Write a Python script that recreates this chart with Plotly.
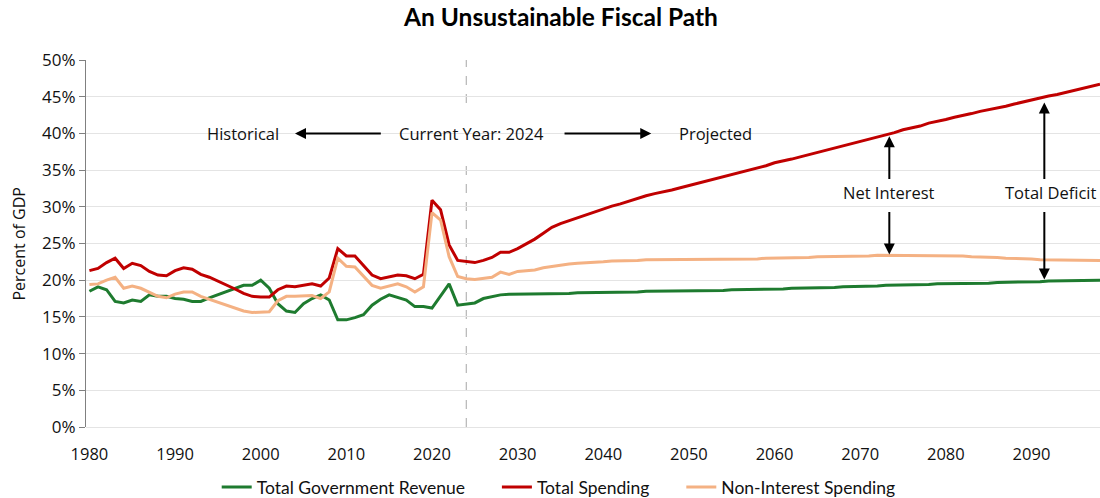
import plotly.graph_objects as go

years = list(range(1980, 2099))

revenue_hist = [18.5, 19.1, 18.7, 17.1, 16.9, 17.3, 17.1, 18.0, 17.8, 17.8,
                17.5, 17.4, 17.1, 17.1, 17.6, 18.0, 18.4, 18.8, 19.3, 19.3,
                20.0, 18.9, 16.8, 15.8, 15.6, 16.8, 17.5, 18.0, 17.3, 14.6,
                14.6, 14.9, 15.3, 16.6, 17.4, 18.0, 17.7, 17.3, 16.4, 16.4,
                16.2, 17.8, 19.5, 16.6, 16.8]
revenue_proj = [16.9, 17.5, 17.8, 18.0, 18.1, 18.1, 18.2, 18.1, 18.2, 18.2,
                18.2, 18.2, 18.3, 18.3, 18.3, 18.4, 18.4, 18.4, 18.4, 18.4,
                18.5, 18.5, 18.5, 18.5, 18.5, 18.5, 18.6, 18.6, 18.6, 18.6,
                18.7, 18.7, 18.7, 18.7, 18.8, 18.8, 18.8, 18.9, 18.9, 18.9,
                19.0, 19.0, 19.0, 19.1, 19.1, 19.1, 19.2, 19.2, 19.3, 19.3,
                19.3, 19.4, 19.4, 19.4, 19.5, 19.5, 19.5, 19.5, 19.6, 19.6,
                19.6, 19.7, 19.7, 19.7, 19.8, 19.8, 19.8, 19.9, 19.9, 19.9,
                19.9, 20.0, 20.0, 20.0]

spending_hist = [21.3, 21.6, 22.4, 23.0, 21.6, 22.3, 22.0, 21.2, 20.7, 20.6,
                 21.3, 21.7, 21.5, 20.8, 20.4, 19.9, 19.3, 18.8, 18.2, 17.8,
                 17.7, 17.7, 18.7, 19.2, 19.1, 19.3, 19.5, 19.2, 20.3, 24.3,
                 23.3, 23.3, 22.0, 20.7, 20.2, 20.4, 20.7, 20.6, 20.2, 20.8,
                 30.9, 29.6, 24.8, 22.7, 22.5]
spending_proj = [22.4, 22.7, 23.1, 23.8, 23.8, 24.3, 24.9, 25.6, 26.4, 27.2,
                 27.7, 28.1, 28.5, 29.0, 29.3, 29.8, 30.1, 30.4, 30.8, 31.1,
                 31.5, 31.8, 32.0, 32.3, 32.6, 32.9, 33.2, 33.5, 33.8, 34.0,
                 34.3, 34.7, 35.0, 35.3, 35.6, 36.0, 36.2, 36.5, 36.8, 37.1,
                 37.4, 37.7, 38.0, 38.3, 38.6, 38.9, 39.2, 39.5, 39.8, 40.1,
                 40.5, 40.7, 41.0, 41.4, 41.6, 41.9, 42.2, 42.4, 42.7, 43.0,
                 43.2, 43.5, 43.7, 44.0, 44.3, 44.5, 44.8, 45.1, 45.3, 45.6,
                 45.9, 46.2, 46.5, 46.7]

noninterest_hist = [19.4, 19.5, 20.0, 20.4, 18.9, 19.2, 18.9, 18.3, 17.8, 17.6,
                    18.1, 18.4, 18.4, 17.8, 17.4, 16.9, 16.5, 16.1, 15.8, 15.6,
                    15.6, 15.7, 17.2, 17.8, 17.8, 17.9, 17.9, 17.5, 18.4, 23.0,
                    21.9, 21.8, 20.6, 19.3, 18.9, 19.2, 19.5, 19.1, 18.4, 19.1,
                    29.2, 28.2, 23.2, 20.5, 20.2]
noninterest_proj = [20.1, 20.2, 20.4, 21.1, 20.8, 21.2, 21.3, 21.4, 21.7, 21.9,
                    22.1, 22.2, 22.3, 22.4, 22.4, 22.5, 22.6, 22.6, 22.7, 22.7,
                    22.8, 22.8, 22.8, 22.8, 22.8, 22.8, 22.8, 22.8, 22.8, 22.8,
                    22.8, 22.9, 22.9, 22.9, 23.0, 23.0, 23.0, 23.1, 23.1, 23.1,
                    23.2, 23.2, 23.2, 23.3, 23.3, 23.3, 23.3, 23.4, 23.4, 23.4,
                    23.4, 23.4, 23.4, 23.4, 23.4, 23.4, 23.3, 23.3, 23.2, 23.2,
                    23.1, 23.1, 23.0, 23.0, 22.9, 22.9, 22.8, 22.8, 22.8, 22.8,
                    22.7, 22.7, 22.7, 22.7]

revenue = revenue_hist + revenue_proj
spending = spending_hist + spending_proj
noninterest = noninterest_hist + noninterest_proj

series_names = ["Total Government Revenue", "Total Spending", "Non-Interest Spending"]

y_ticks = [0, 5, 10, 15, 20, 25, 30, 35, 40, 45, 50]
y_tick_labels = [f"{v}%" for v in y_ticks]
x_ticks = list(range(1980, 2100, 10))

current_year = 2024

GREEN = "#1e7b2f"
RED = "#c00000"
ORANGE = "#f4b183"
TXT = "#111111"
FONT = "Open Sans, Noto Sans, sans-serif"
LFONT = "Lato, Open Sans, sans-serif"
PAD = "\u00a0" * 6

fig = go.Figure()
fig.add_trace(go.Scatter(x=years, y=revenue, mode="lines", name=series_names[0] + PAD,
                         line=dict(color=GREEN, width=3)))
fig.add_trace(go.Scatter(x=years, y=spending, mode="lines", name=series_names[1] + PAD,
                         line=dict(color=RED, width=3)))
fig.add_trace(go.Scatter(x=years, y=noninterest, mode="lines", name=series_names[2],
                         line=dict(color=ORANGE, width=3)))

# dashed current-year line
fig.add_shape(type="line", x0=current_year, x1=current_year, y0=0, y1=50,
              xref="x", yref="y", line=dict(color="#a6a6a6", width=1, dash="dash"),
              layer="below")
# white text band covering gridline / dashed line
fig.add_shape(type="rect", x0=1979.6, x1=2060.5, y0=36.6, y1=43.5,
              xref="x", yref="y", fillcolor="white", line=dict(width=0),
              layer="below")

annotations = []
def txt(x, y, s):
    annotations.append(dict(x=x, y=y, xref="x", yref="y", text=s, showarrow=False,
                            font=dict(family=FONT, size=16.5, color=TXT),
                            xanchor="center", yanchor="middle"))

def arrow(x0, y0, x1, y1):
    annotations.append(dict(x=x1, y=y1, ax=x0, ay=y0, xref="x", yref="y",
                            axref="x", ayref="y", text="", showarrow=True,
                            arrowhead=2, arrowsize=1.1, arrowwidth=2,
                            arrowcolor="#000000", standoff=0, startstandoff=0))

txt(1997.9, 40.0, "Historical")
txt(2024.6, 40.0, "Current Year: 2024")
txt(2053.1, 40.0, "Projected")
arrow(2014.2, 40.0, 2004.0, 40.0)
arrow(2035.3, 40.0, 2045.6, 40.0)

txt(2073.4, 31.9, "Net Interest")
arrow(2073.4, 33.6, 2073.4, 39.6)
arrow(2073.4, 29.5, 2073.4, 23.5)

txt(2092.3, 31.9, "Total Deficit")
arrow(2091.5, 33.6, 2091.5, 44.2)
arrow(2091.5, 29.5, 2091.5, 20.1)

annotations.append(dict(x=-0.067, y=0.5, xref="paper", yref="paper", text="Percent of GDP",
                        showarrow=False, textangle=-90,
                        font=dict(family=FONT, size=16, color=TXT),
                        xanchor="center", yanchor="middle"))

fig.update_layout(
    width=1100, height=498,
    margin=dict(l=86, r=0, t=60, b=71),
    paper_bgcolor="white", plot_bgcolor="white",
    title=dict(text="<b>An Unsustainable Fiscal Path</b>", x=0.51, xanchor="center",
               y=0.966, yanchor="middle", xref="container", yref="container",
               font=dict(family=LFONT, size=24.5, color="#000000")),
    showlegend=True,
    legend=dict(orientation="h", xref="container", yref="container",
                x=0.197, xanchor="left", y=0.022, yanchor="middle",
                font=dict(family=LFONT, size=17.5, color=TXT),
                itemwidth=30, tracegroupgap=0),
    annotations=annotations,
)
fig.update_xaxes(range=[1979.6, 2098], tickmode="array", tickvals=x_ticks,
                 showgrid=False, zeroline=False, showline=False, ticks="",
                 tickfont=dict(family=FONT, size=16.5, color=TXT), ticklabelstandoff=15)
fig.update_yaxes(range=[0, 50], tickmode="array", tickvals=y_ticks, ticktext=y_tick_labels,
                 showgrid=True, gridcolor="#e4e4e4", gridwidth=1,
                 zeroline=True, zerolinecolor="#e4e4e4", zerolinewidth=1,
                 showline=True, linecolor="#808080", linewidth=1,
                 ticks="outside", ticklen=6, tickcolor="#808080",
                 tickfont=dict(family=FONT, size=17, color=TXT))

fig.write_html("out.html")
